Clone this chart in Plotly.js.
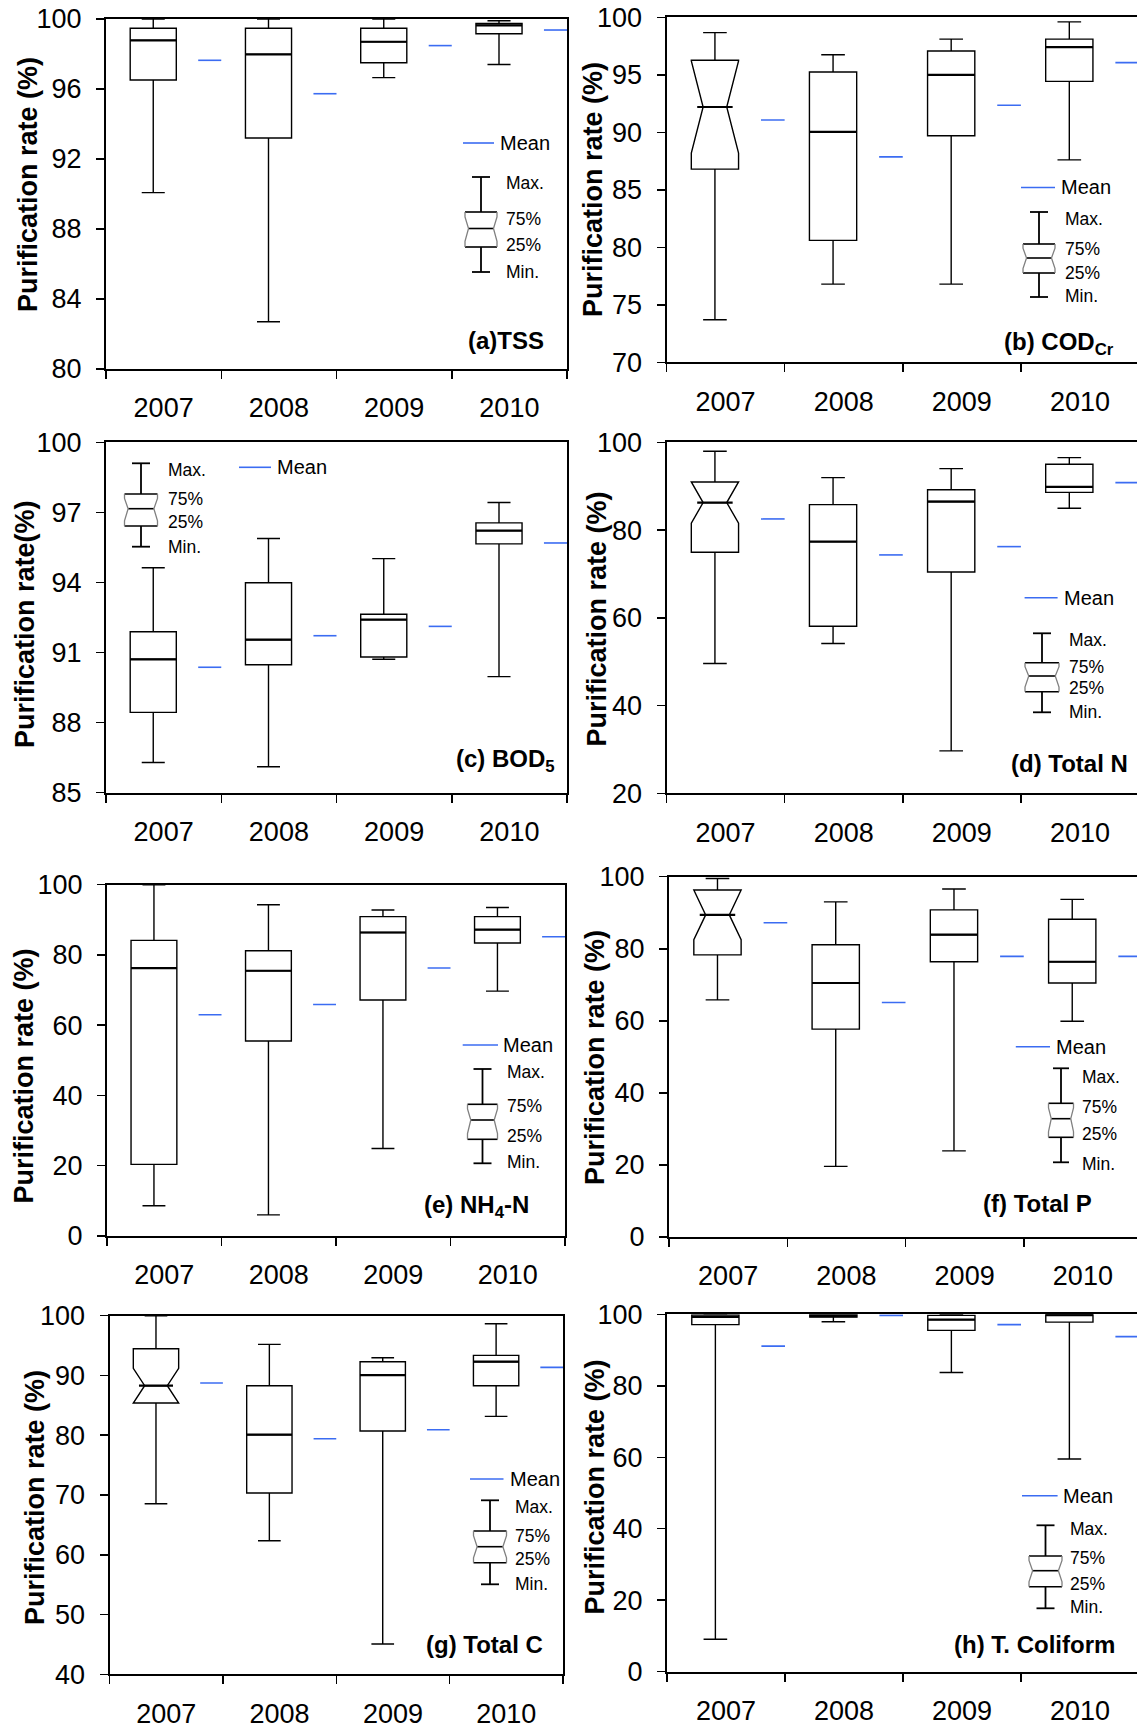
<!DOCTYPE html>
<html><head><meta charset="utf-8">
<script src="https://cdn.plot.ly/plotly-3.0.1.min.js"></script>
<style>html,body{margin:0;padding:0;background:#fff}#chart{width:1137px;height:1727px}</style>
</head><body><div id="chart"></div>
<script>
const years = ['2007', '2008', '2009', '2010'];

// (a) TSS
const tssMax  = [100, 100, 100, 99.9];
const tssQ3   = [99.47, 99.47, 99.47, 99.75];
const tssMed  = [98.78, 97.98, 98.7, 99.64];
const tssQ1   = [96.51, 93.2, 97.5, 99.16];
const tssMin  = [90.08, 82.7, 96.65, 97.4];
const tssMean = [97.64, 95.73, 98.48, 99.37];

// (b) COD_Cr
const codMax  = [98.67, 96.75, 98.1, 99.6];
const codQ3   = [96.26, 95.25, 97.07, 98.1];
const codMed  = [92.2, 90.03, 94.99, 97.4];
const codQ1   = [86.8, 80.6, 89.7, 94.43];
const codMin  = [73.7, 76.8, 76.8, 87.6];
const codMean = [91.07, 87.86, 92.35, 96.06];

// (c) BOD5
const bodMax  = [94.63, 95.88, 95.02, 97.42];
const bodQ3   = [91.89, 93.99, 92.64, 96.55];
const bodMed  = [90.71, 91.55, 92.41, 96.22];
const bodQ1   = [88.44, 90.48, 90.81, 95.65];
const bodMin  = [86.29, 86.11, 90.71, 89.97];
const bodMean = [90.37, 91.72, 92.12, 95.69];

// (d) Total N
const tnMax  = [97.95, 91.95, 94.0, 96.5];
const tnQ3   = [90.96, 85.8, 89.2, 94.99];
const tnMed  = [86.26, 77.37, 86.5, 89.83];
const tnQ1   = [74.94, 58.1, 70.46, 88.6];
const tnMin  = [49.6, 54.14, 29.7, 84.97];
const tnMean = [82.54, 74.34, 76.23, 90.81];

// (e) NH4-N
const nhMax  = [100, 94.3, 92.8, 93.5];
const nhQ3   = [84.16, 81.2, 90.9, 90.9];
const nhMed  = [76.28, 75.5, 86.4, 87.2];
const nhQ1   = [20.4, 55.5, 67.2, 83.4];
const nhMin  = [8.63, 6.0, 24.9, 69.7];
const nhMean = [63.0, 65.9, 76.3, 85.2];

// (f) Total P
const tpMax  = [99.5, 93.0, 96.6, 93.7];
const tpQ3   = [96.3, 81.1, 90.8, 88.2];
const tpMed  = [89.4, 70.5, 83.9, 76.4];
const tpQ1   = [78.3, 57.7, 76.4, 70.5];
const tpMin  = [65.8, 19.6, 23.9, 59.9];
const tpMean = [87.2, 65.1, 77.9, 77.9];

// (g) Total C
const tcMax  = [100, 95.2, 92.97, 98.66];
const tcQ3   = [94.48, 88.29, 92.3, 93.36];
const tcMed  = [88.29, 80.09, 90.07, 92.3];
const tcQ1   = [85.39, 70.33, 80.7, 88.29];
const tcMin  = [68.54, 62.35, 45.06, 83.16];
const tcMean = [88.73, 79.42, 80.93, 91.36];

// (h) T. Coliform
const colMax  = [100, 100, 100, 100];
const colQ3   = [99.8, 99.9, 99.7, 99.95];
const colMed  = [99.3, 99.5, 98.5, 99.9];
const colQ1   = [97.1, 99.2, 95.5, 97.8];
const colMin  = [9.1, 97.9, 83.7, 59.5];
const colMean = [91.1, 99.7, 97.1, 93.75];

const FONT = 'Arial, "Liberation Sans", sans-serif';
const NARROW = '"Liberation Sans Narrow", "Arial Narrow", Arial, sans-serif';
const FW = 1137, FH = 1727;
const PX = v => v / FW, PY = v => 1 - v / FH;
const MEANC = '#3b6cf2';
const TICKSIZE = 27;

const panels = [
  {mx: tssMax, q3: tssQ3, md: tssMed, q1: tssQ1, mn: tssMin, mean: tssMean, yr: [80, 100], dt: 4, notch: null,
   box: [106, 567, 19, 369], right: false, ytitle: 'Purification rate (%)', tpos: [28, 185],
   label: '<b>(a)TSS</b>', lpos: [546, 341],
   leg: {m: [463, 494, 143], mt: 498, cx: 481, bw: 16, cw: 9, ys: [177, 212, 228.5, 247, 272], lx: 504, ly: [183, 219, 245, 272]}, nar: false},
  {mx: codMax, q3: codQ3, md: codMed, q1: codQ1, mn: codMin, mean: codMean, yr: [70, 100], dt: 5, notch: 4.0,
   box: [666.5, 1139, 17.3, 362.3], right: true, ytitle: 'Purification rate (%)', tpos: [593, 190],
   label: '<b>(b) COD<sub>Cr</sub></b>', lpos: [1116, 343],
   leg: {m: [1021, 1055, 187.5], mt: 1059, cx: 1039, bw: 16, cw: 9, ys: [212, 244, 258, 273, 297], lx: 1063, ly: [219, 249, 273, 296]}, nar: false},
  {mx: bodMax, q3: bodQ3, md: bodMed, q1: bodQ1, mn: bodMin, mean: bodMean, yr: [85, 100], dt: 3, notch: null,
   box: [106, 567, 442.3, 792.7], right: false, ytitle: 'Purification rate(%)', tpos: [25, 624],
   label: '<b>(c) BOD<sub>5</sub></b>', lpos: [557, 760],
   leg: {m: [239, 271, 467.3], mt: 275, cx: 141, bw: 16.5, cw: 9, ys: [463.3, 494, 508.7, 526, 546.7], lx: 166, ly: [470, 499, 521.7, 547]}, nar: false},
  {mx: tnMax, q3: tnQ3, md: tnMed, q1: tnQ1, mn: tnMin, mean: tnMean, yr: [20, 100], dt: 20, notch: 4.7,
   box: [666.5, 1139, 442.3, 793.4], right: true, ytitle: 'Purification rate (%)', tpos: [596.5, 619],
   label: '<b>(d) Total N</b>', lpos: [1130, 763],
   leg: {m: [1024.6, 1057.6, 597.7], mt: 1062, cx: 1042, bw: 17, cw: 9, ys: [633.3, 662.7, 676, 691.7, 712.3], lx: 1067, ly: [640, 666.7, 688, 711.7]}, nar: false},
  {mx: nhMax, q3: nhQ3, md: nhMed, q1: nhQ1, mn: nhMin, mean: nhMean, yr: [0, 100], dt: 20, notch: null,
   box: [107, 565, 884.7, 1236], right: false, ytitle: 'Purification rate (%)', tpos: [23.5, 1076],
   label: '<b>(e) NH<sub>4</sub>-N</b>', lpos: [531, 1206],
   leg: {m: [462.7, 498, 1045], mt: 501, cx: 482.5, bw: 15, cw: 9, ys: [1069, 1104.3, 1120, 1139.3, 1163.3], lx: 505, ly: [1072.3, 1106, 1135.7, 1161.7]}, nar: false},
  {mx: tpMax, q3: tpQ3, md: tpMed, q1: tpQ1, mn: tpMin, mean: tpMean, yr: [0, 100], dt: 20, notch: 6.9,
   box: [669, 1142, 876.7, 1237], right: true, ytitle: 'Purification rate (%)', tpos: [595, 1058],
   label: '<b>(f) Total P</b>', lpos: [1094, 1203],
   leg: {m: [1015.8, 1050, 1046.7], mt: 1054, cx: 1061, bw: 12.5, cw: 8, ys: [1068.3, 1103.3, 1118.7, 1137.3, 1162.3], lx: 1080, ly: [1077, 1106.7, 1134, 1164]}, nar: true},
  {mx: tcMax, q3: tcQ3, md: tcMed, q1: tcQ1, mn: tcMin, mean: tcMean, yr: [40, 100], dt: 10, notch: 2.9,
   box: [109.5, 563, 1315.7, 1674.3], right: false, ytitle: 'Purification rate (%)', tpos: [35, 1498],
   label: '<b>(g) Total C</b>', lpos: [545, 1644],
   leg: {m: [470, 503.5, 1479], mt: 508, cx: 490, bw: 16.5, cw: 9, ys: [1500.3, 1531, 1546.7, 1562.7, 1584.3], lx: 513, ly: [1507, 1536, 1559.3, 1584]}, nar: false},
  {mx: colMax, q3: colQ3, md: colMed, q1: colQ1, mn: colMin, mean: colMean, yr: [0, 100], dt: 20, notch: null,
   box: [667, 1139, 1314.3, 1671.7], right: true, ytitle: 'Purification rate (%)', tpos: [594.5, 1487],
   label: '<b>(h) T. Coliform</b>', lpos: [1117, 1644],
   leg: {m: [1022, 1057.6, 1495.7], mt: 1061, cx: 1045.5, bw: 16.5, cw: 9, ys: [1525.3, 1556, 1570.7, 1586.7, 1608.3], lx: 1068, ly: [1529, 1558, 1584, 1606.7]}, nar: false}
];

const BOXOFF = 0.41, BOXW = 0.40, NOTCHW = 0.25;
const traces = [];
const layout = {
  width: FW, height: FH, margin: {l: 0, r: 0, t: 0, b: 0},
  paper_bgcolor: 'white', plot_bgcolor: 'white', showlegend: false,
  font: {family: FONT, color: 'black'},
  shapes: [], annotations: []
};

panels.forEach((p, k) => {
  const n = k + 1;
  const xa = 'x' + (n > 1 ? n : ''), ya = 'y' + (n > 1 ? n : '');
  const [l, r, t, b] = p.box;
  const rr = Math.min(r, FW);
  const xmax = 4 * (rr - l) / (r - l);
  const pos = years.map((_, i) => i + BOXOFF);

  const idxPlain = years.map((_, i) => i).filter(i => !(p.notch && i === 0));
  const pick = (arr, idx) => idx.map(i => arr[i]);
  const boxBase = {
    type: 'box', xaxis: xa, yaxis: ya, width: BOXW, whiskerwidth: 0.5,
    fillcolor: 'white', line: {color: 'black', width: 1.4}, boxpoints: false,
    hoverinfo: 'skip', showlegend: false
  };
  traces.push(Object.assign({}, boxBase, {
    x: pick(pos, idxPlain), q1: pick(p.q1, idxPlain), median: pick(p.md, idxPlain),
    q3: pick(p.q3, idxPlain), lowerfence: pick(p.mn, idxPlain), upperfence: pick(p.mx, idxPlain)
  }));
  if (p.notch) {
    traces.push(Object.assign({}, boxBase, {
      x: [pos[0]], q1: [p.q1[0]], median: [p.md[0]], q3: [p.q3[0]],
      lowerfence: [p.mn[0]], upperfence: [p.mx[0]],
      notched: true, notchwidth: NOTCHW, notchspan: [p.notch]
    }));
  }
  // bolder median lines
  const mxs = [], mys = [];
  years.forEach((_, i) => {
    const hw = BOXW / 2 * ((p.notch && i === 0) ? (1 - NOTCHW) : 1);
    mxs.push(pos[i] - hw, pos[i] + hw, null);
    mys.push(p.md[i], p.md[i], null);
  });
  traces.push({type: 'scatter', mode: 'lines', x: mxs, y: mys, xaxis: xa, yaxis: ya,
    line: {color: 'black', width: 2.2}, hoverinfo: 'skip', showlegend: false});
  // mean dashes
  const exs = [], eys = [];
  years.forEach((_, i) => { exs.push(i + 0.8, i + 1.0, null); eys.push(p.mean[i], p.mean[i], null); });
  traces.push({type: 'scatter', mode: 'lines', x: exs, y: eys, xaxis: xa, yaxis: ya,
    line: {color: MEANC, width: 1.6}, hoverinfo: 'skip', showlegend: false});

  layout['xaxis' + (n > 1 ? n : '')] = {
    domain: [PX(l), PX(rr)], range: [0, xmax], anchor: ya,
    showline: true, linecolor: 'black', linewidth: 2, mirror: true,
    tickmode: 'array', tickvals: [0.5, 1.5, 2.5, 3.5], ticktext: years, ticks: '',
    tickfont: {size: TICKSIZE, family: FONT, color: 'black'}, ticklabelstandoff: 14,
    minor: {tickmode: 'linear', tick0: 0, dtick: 1, ticks: 'outside', ticklen: 8, tickwidth: 1.5, tickcolor: 'black', showgrid: false},
    showgrid: false, zeroline: false, fixedrange: true
  };
  layout['yaxis' + (n > 1 ? n : '')] = {
    domain: [PY(b), PY(t)], range: p.yr, anchor: xa,
    showline: true, linecolor: 'black', linewidth: 2, mirror: !p.right,
    tickmode: 'linear', tick0: p.yr[0], dtick: p.dt, ticks: 'outside', ticklen: 8, tickwidth: 1.5, tickcolor: 'black',
    tickfont: {size: TICKSIZE, family: FONT, color: 'black'}, ticklabelstandoff: 9,
    showgrid: false, zeroline: false, fixedrange: true
  };

  // y title
  layout.annotations.push({xref: 'paper', yref: 'paper', x: PX(p.tpos[0]), y: PY(p.tpos[1]),
    xanchor: 'center', yanchor: 'middle', textangle: -90, showarrow: false,
    text: '<b>' + p.ytitle + '</b>', font: {size: 27, family: FONT, color: 'black'}});
  // panel label
  layout.annotations.push({xref: 'paper', yref: 'paper', x: PX(p.lpos[0]), y: PY(p.lpos[1]),
    xanchor: 'right', yanchor: 'middle', showarrow: false,
    text: p.label, font: {size: 24, family: FONT, color: 'black'}});

  // legend
  const g = p.leg;
  const line = (x0, y0, x1, y1, c, w) => layout.shapes.push({type: 'line', xref: 'paper', yref: 'paper',
    x0: PX(x0), y0: PY(y0), x1: PX(x1), y1: PY(y1), line: {color: c, width: w}});
  line(g.m[0], g.m[2], g.m[1], g.m[2], MEANC, 1.6);
  layout.annotations.push({xref: 'paper', yref: 'paper', x: PX(g.mt), y: PY(g.m[2]), xanchor: 'left', yanchor: 'middle',
    showarrow: false, text: 'Mean', font: {size: 20, family: FONT, color: 'black'}});
  const [c1, bt, md, bb, c2] = g.ys;
  const cx = g.cx, bw = g.bw, nw = bw * 0.78;
  line(cx - g.cw, c1, cx + g.cw, c1, 'black', 1.8);
  line(cx, c1, cx, bt, 'black', 1.8);
  line(cx - bw, bt, cx + bw, bt, 'black', 1.6);
  line(cx - nw, md, cx + nw, md, 'black', 1.6);
  line(cx - bw, bb, cx + bw, bb, 'black', 1.6);
  line(cx, bb, cx, c2, 'black', 1.8);
  line(cx - g.cw, c2, cx + g.cw, c2, 'black', 1.8);
  [-1, 1].forEach(s => {
    layout.shapes.push({type: 'path', xref: 'paper', yref: 'paper',
      path: 'M' + PX(cx + s * bw) + ',' + PY(bt) + ' L' + PX(cx + s * bw) + ',' + PY(bt + (md - bt) * 0.3) +
            ' L' + PX(cx + s * nw) + ',' + PY(md) + ' L' + PX(cx + s * bw) + ',' + PY(md + (bb - md) * 0.7) +
            ' L' + PX(cx + s * bw) + ',' + PY(bb),
      line: {color: '#808080', width: 1.3}});
  });
  const labs = ['Max.', '75%', '25%', 'Min.'];
  labs.forEach((s, j) => layout.annotations.push({xref: 'paper', yref: 'paper', x: PX(g.lx), y: PY(g.ly[j]),
    xanchor: 'left', yanchor: 'middle', showarrow: false, text: s,
    font: {size: 17.5, family: p.nar ? NARROW : FONT, color: 'black'}}));
});

Plotly.newPlot('chart', traces, layout, {staticPlot: true, displayModeBar: false});
</script></body></html>
